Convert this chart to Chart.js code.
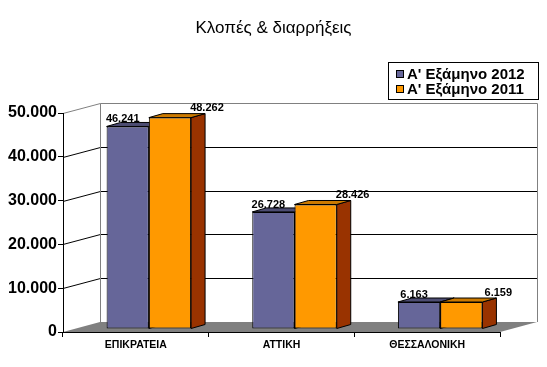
<!DOCTYPE html>
<html><head><meta charset="utf-8">
<script src="https://cdn.jsdelivr.net/npm/chart.js@4.4.1/dist/chart.umd.min.js"></script>
<style>html,body{margin:0;padding:0;background:#fff;}#wrap{width:547px;height:367px;}</style>
</head><body><div id="wrap"><canvas id="c" width="547" height="367"></canvas></div>
<script>
const categories = ['ΕΠΙΚΡΑΤΕΙΑ', 'ΑΤΤΙΚΗ', 'ΘΕΣΣΑΛΟΝΙΚΗ'];
const seriesNames = ["Α' Εξάμηνο 2012", "Α' Εξάμηνο 2011"];
const values2012 = [46241, 26728, 6163];
const values2011 = [48262, 28426, 6159];
const yTickValues = [0, 10000, 20000, 30000, 40000, 50000];
const titleText = 'Κλοπές & διαρρήξεις';

const FONT = '"Liberation Sans", Arial, sans-serif';
const fmt = v => String(v).replace(/\B(?=(\d{3})+(?!\d))/g, '.');

const WALL_DX = 37, WALL_DY = 10;
const BAR_SHIFT_X = 13, BAR_SHIFT_Y = 3;
const BAR_DX = 14, BAR_DY = 4;
const faces = [
  {front: '#666699', top: '#4d4d73', side: '#333366'},
  {front: '#FF9900', top: '#CC7A00', side: '#993300'}
];

function barBox(el) {
  const p = el.getProps(['x', 'y', 'base', 'width'], true);
  return {l: p.x - p.width / 2, r: p.x + p.width / 2, t: p.y, b: p.base, x: p.x};
}
function poly(ctx, pts, fill) {
  ctx.beginPath();
  ctx.moveTo(pts[0][0], pts[0][1]);
  for (let i = 1; i < pts.length; i++) ctx.lineTo(pts[i][0], pts[i][1]);
  ctx.closePath();
  ctx.fillStyle = fill; ctx.fill();
  ctx.strokeStyle = '#000'; ctx.lineWidth = 1; ctx.stroke();
}

const threeD = {
  id: 'threeD',
  beforeDraw(chart) {
    const {ctx, chartArea: a, scales: {y}} = chart;
    const L = a.left, R = a.right;
    const B = y.getPixelForValue(yTickValues[0]);
    const T = y.getPixelForValue(yTickValues[yTickValues.length - 1]);
    ctx.save();
    ctx.fillStyle = '#808080';
    ctx.beginPath();
    ctx.moveTo(L, B); ctx.lineTo(L + WALL_DX, B - WALL_DY);
    ctx.lineTo(R + WALL_DX, B - WALL_DY); ctx.lineTo(R, B); ctx.closePath();
    ctx.fill();
    ctx.lineWidth = 1;
    yTickValues.forEach((v, i) => {
      if (i === 0) return;
      const py = Math.round(y.getPixelForValue(v)) + 0.5;
      ctx.strokeStyle = (i === yTickValues.length - 1) ? '#808080' : '#000';
      ctx.beginPath();
      ctx.moveTo(L, py); ctx.lineTo(L + WALL_DX + 0.5, py - WALL_DY);
      ctx.lineTo(R + WALL_DX + 0.5, py - WALL_DY);
      ctx.stroke();
    });
    ctx.strokeStyle = '#808080';
    ctx.beginPath();
    ctx.moveTo(L + WALL_DX + 0.5, Math.round(T) + 0.5 - WALL_DY);
    ctx.lineTo(L + WALL_DX + 0.5, B - WALL_DY);
    ctx.moveTo(R + WALL_DX + 0.5, Math.round(T) + 0.5 - WALL_DY);
    ctx.lineTo(R + WALL_DX + 0.5, B - WALL_DY);
    ctx.stroke();
    ctx.restore();
  },
  beforeDatasetsDraw(chart) {
    const ctx = chart.ctx;
    ctx.save();
    ctx.translate(BAR_SHIFT_X, -BAR_SHIFT_Y);
    const n = chart.data.labels.length;
    for (let i = 0; i < n; i++) {
      chart.data.datasets.forEach((ds, d) => {
        const el = chart.getDatasetMeta(d).data[i];
        const b = barBox(el);
        const f = faces[d];
        poly(ctx, [[b.r, b.t], [b.r + BAR_DX, b.t - BAR_DY], [b.r + BAR_DX, b.b - BAR_DY], [b.r, b.b]], f.side);
        poly(ctx, [[b.l, b.t], [b.l + BAR_DX, b.t - BAR_DY], [b.r + BAR_DX, b.t - BAR_DY], [b.r, b.t]], f.top);
      });
    }
  },
  afterDatasetsDraw(chart) {
    chart.ctx.restore();
  },
  afterDraw(chart) {
    const ctx = chart.ctx;
    ctx.save();
    ctx.font = 'bold 11px ' + FONT;
    ctx.fillStyle = '#000';
    ctx.textAlign = 'center';
    ctx.textBaseline = 'middle';
    const offs = [[-5, -7], [37, -9.5]];
    chart.data.datasets.forEach((ds, d) => {
      chart.getDatasetMeta(d).data.forEach((el, i) => {
        const b = barBox(el);
        ctx.fillText(fmt(ds.data[i]), b.x + BAR_SHIFT_X + offs[d][0], b.t - BAR_SHIFT_Y + offs[d][1]);
      });
    });
    const lx = 388, ly = 62, lw = 150, lh = 37;
    ctx.fillStyle = '#fff';
    ctx.fillRect(lx, ly, lw, lh);
    ctx.strokeStyle = '#000'; ctx.lineWidth = 1;
    ctx.strokeRect(lx + 0.5, ly + 0.5, lw, lh);
    ctx.font = 'bold 15px ' + FONT;
    ctx.textAlign = 'left';
    ctx.textBaseline = 'middle';
    chart.data.datasets.forEach((ds, d) => {
      const cy = ly + 12 + d * 15;
      ctx.fillStyle = ds.backgroundColor;
      ctx.fillRect(lx + 8, cy - 4, 7, 7);
      ctx.strokeRect(lx + 8.5, cy - 3.5, 7, 7);
      ctx.fillStyle = '#000';
      ctx.fillText(ds.label, lx + 19, cy + 0.5);
    });
    ctx.restore();
  }
};

new Chart(document.getElementById('c'), {
  type: 'bar',
  data: {
    labels: categories,
    datasets: [
      {label: seriesNames[0], data: values2012, backgroundColor: faces[0].front, borderColor: '#000', borderWidth: 1, borderSkipped: false, categoryPercentage: 0.58, barPercentage: 1},
      {label: seriesNames[1], data: values2011, backgroundColor: faces[1].front, borderColor: '#000', borderWidth: 1, borderSkipped: false, categoryPercentage: 0.58, barPercentage: 1}
    ]
  },
  options: {
    responsive: false,
    animation: false,
    devicePixelRatio: 1,
    layout: {padding: {left: 0, right: 0, top: 0, bottom: 0}},
    plugins: {
      legend: {display: false},
      tooltip: {enabled: false},
      title: {
        display: true, text: titleText, color: '#000',
        font: {family: FONT, size: 17, weight: 'normal'},
        padding: {top: 18, bottom: 74.6}
      }
    },
    scales: {
      x: {
        grid: {display: true, drawOnChartArea: false, drawTicks: true, tickLength: 5, color: '#000', offset: true},
        border: {display: true, color: '#000', width: 1},
        ticks: {color: '#000', font: {family: FONT, size: 10.5, weight: 'bold'}, padding: 2, maxRotation: 0},
        afterFit(s) { s.height = 35; }
      },
      y: {
        min: 0, max: 50000,
        afterBuildTicks(s) { s.ticks = yTickValues.map(v => ({value: v})); },
        grid: {display: true, drawOnChartArea: false, drawTicks: true, tickLength: 5, color: '#000'},
        border: {display: true, color: '#000', width: 1},
        ticks: {color: '#000', font: {family: FONT, size: 16, weight: 'bold'}, padding: 1, callback: v => fmt(v)},
        afterFit(s) { s.width = 63; }
      },
      depth: {
        position: 'right', display: true, min: 0, max: 1,
        grid: {display: false}, border: {display: false}, ticks: {display: false},
        afterFit(s) { s.width = 47; }
      }
    }
  },
  plugins: [threeD]
});
</script></body></html>
